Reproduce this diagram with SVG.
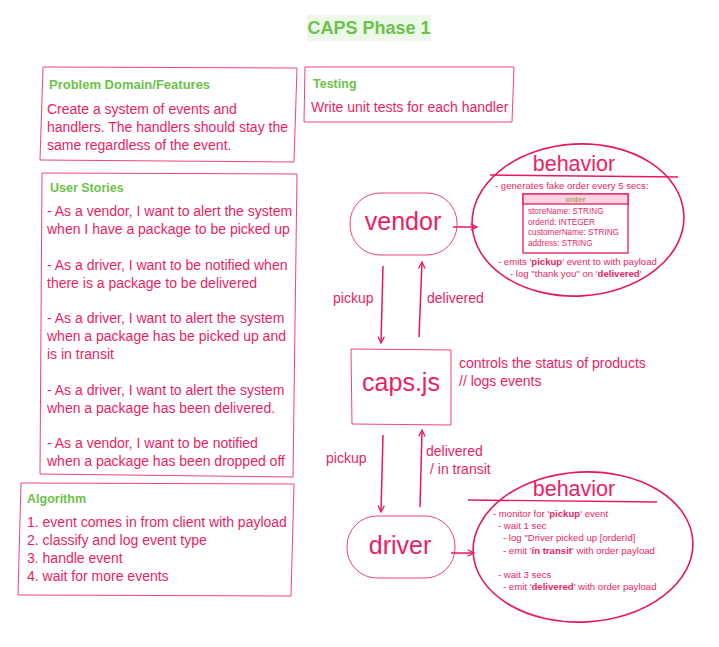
<svg xmlns="http://www.w3.org/2000/svg" width="719" height="647" viewBox="0 0 719 647">
<defs>
<style>
text{font-family:"Liberation Sans",Arial,sans-serif;fill:#ec1e62}
.h{font-weight:bold;fill:#6cc24a;font-size:12.5px}
.b{font-size:14px}
.big{font-size:25px;text-anchor:middle}
.beh{font-size:21.5px;text-anchor:middle}
.s{font-size:9.6px}
.t{font-size:8.2px}
.box{fill:none;stroke:#f0437e;stroke-width:1}
.ell{fill:none;stroke:#e8185c;stroke-width:1.6}
.node{fill:none;stroke:#f0437e;stroke-width:1}
.conn{fill:none;stroke:#e8185c;stroke-width:1.5}
</style>
<marker id="ah" viewBox="0 0 10 10" refX="9" refY="5" markerWidth="8" markerHeight="8" markerUnits="userSpaceOnUse" orient="auto">
<path d="M1,1 L9,5 L1,9" fill="none" stroke="#e8185c" stroke-width="1.6"/>
</marker>
</defs>
<rect width="719" height="647" fill="#ffffff"/>

<g id="title">
<rect x="307" y="15" width="124" height="26" fill="#ecf8e8"/>
<text x="369" y="34" text-anchor="middle" style="font-weight:bold;font-size:18px;fill:#6cc24a">CAPS Phase 1</text>
</g>

<g id="problem-domain">
<polygon class="box" points="43,67 297,68 294,162 40,160"/>
<text class="h" x="49" y="89" style="font-size:13px">Problem Domain/Features</text>
<text class="b" x="47" y="114">Create a system of events and</text>
<text class="b" x="47" y="132">handlers. The handlers should stay the</text>
<text class="b" x="47" y="150">same regardless of the event.</text>
</g>

<g id="testing">
<polygon class="box" points="305,67 514,67 512,122 304,122"/>
<text class="h" x="313" y="88">Testing</text>
<text class="b" x="311" y="112">Write unit tests for each handler</text>
</g>

<g id="user-stories">
<polygon class="box" points="42,173 297,174 293,477 40,474"/>
<text class="h" x="50" y="192">User Stories</text>
<text class="b" x="47" y="216">- As a vendor, I want to alert the system</text>
<text class="b" x="47" y="234">when I have a package to be picked up</text>
<text class="b" x="47" y="270">- As a driver, I want to be notified when</text>
<text class="b" x="47" y="288">there is a package to be delivered</text>
<text class="b" x="47" y="323">- As a driver, I want to alert the system</text>
<text class="b" x="47" y="341">when a package has be picked up and</text>
<text class="b" x="47" y="359">is in transit</text>
<text class="b" x="47" y="395">- As a driver, I want to alert the system</text>
<text class="b" x="47" y="413">when a package has been delivered.</text>
<text class="b" x="47" y="448">- As a vendor, I want to be notified</text>
<text class="b" x="47" y="466">when a package has been dropped off</text>
</g>

<g id="algorithm">
<polygon class="box" points="21,483 294,484 291,596 18,595"/>
<text class="h" x="27" y="503">Algorithm</text>
<text class="b" x="27" y="527">1. event comes in from client with payload</text>
<text class="b" x="27" y="545">2. classify and log event type</text>
<text class="b" x="27" y="563">3. handle event</text>
<text class="b" x="27" y="581">4. wait for more events</text>
</g>

<g id="vendor">
<rect class="node" x="350" y="193" width="107" height="62" rx="30" ry="30"/>
<text class="big" x="403" y="230">vendor</text>
</g>

<g id="caps">
<polygon class="node" points="351,349 451,350 451,425 352,424"/>
<text class="big" x="401" y="391">caps.js</text>
<text class="b" x="459" y="368">controls the status of products</text>
<text class="b" x="459" y="386">// logs events</text>
</g>

<g id="driver">
<rect class="node" x="347" y="516" width="108" height="62" rx="30" ry="30"/>
<text class="big" x="400" y="554">driver</text>
</g>

<g id="vendor-behavior">
<ellipse class="ell" cx="578" cy="220" rx="106" ry="76" transform="rotate(-3 578 220)"/>
<text class="beh" x="574" y="171">behavior</text>
<line x1="490" y1="175" x2="678" y2="177" stroke="#e8185c" stroke-width="1.4"/>
<text class="s" x="495" y="189">- generates fake order every 5 secs:</text>
<rect x="523" y="194" width="105" height="59" fill="none" stroke="#e8185c" stroke-width="1.3"/>
<rect x="523" y="194" width="105" height="10" fill="#ffd3df" stroke="#e8185c" stroke-width="1.3"/>
<text x="575.5" y="202" text-anchor="middle" style="font-size:8px;font-weight:bold;fill:#a3a564">order</text>
<text class="t" x="528" y="214">storeName: STRING</text>
<text class="t" x="528" y="224.5">orderId: INTEGER</text>
<text class="t" x="528" y="235">customerName: STRING</text>
<text class="t" x="528" y="245.5">address: STRING</text>
<text class="s" x="498" y="265">- emits '<tspan font-weight="bold">pickup</tspan>' event to with payload</text>
<text class="s" x="510" y="277">-  log "thank you" on '<tspan font-weight="bold">delivered</tspan>'</text>
</g>

<g id="driver-behavior">
<ellipse class="ell" cx="583" cy="547" rx="110" ry="75" transform="rotate(-3 583 547)"/>
<text class="beh" x="574" y="496">behavior</text>
<line x1="468" y1="500" x2="657" y2="502" stroke="#e8185c" stroke-width="1.4"/>
<text class="s" x="493" y="517">- monitor for '<tspan font-weight="bold">pickup</tspan>' event</text>
<text class="s" x="498" y="529">- wait 1 sec</text>
<text class="s" x="503" y="541">- log "Driver picked up [orderId]</text>
<text class="s" x="503" y="554">- emit '<tspan font-weight="bold">in transit</tspan>' with order payload</text>
<text class="s" x="498" y="578">- wait 3 secs</text>
<text class="s" x="503" y="590">- emit '<tspan font-weight="bold">delivered</tspan>' with order payload</text>
</g>

<g id="connectors">
<line class="conn" x1="453" y1="227" x2="477" y2="227" marker-end="url(#ah)"/>
<line class="conn" x1="383" y1="266" x2="381" y2="343" marker-end="url(#ah)"/>
<line class="conn" x1="419" y1="337" x2="422" y2="262" marker-end="url(#ah)"/>
<line class="conn" x1="383" y1="435" x2="381" y2="512" marker-end="url(#ah)"/>
<line class="conn" x1="420" y1="507" x2="422" y2="430" marker-end="url(#ah)"/>
<line class="conn" x1="451" y1="553" x2="474" y2="553" marker-end="url(#ah)"/>
<text class="b" x="333" y="303">pickup</text>
<text class="b" x="427" y="303">delivered</text>
<text class="b" x="326" y="463">pickup</text>
<text class="b" x="426" y="456">delivered</text>
<text class="b" x="430" y="474">/ in transit</text>
</g>
</svg>
